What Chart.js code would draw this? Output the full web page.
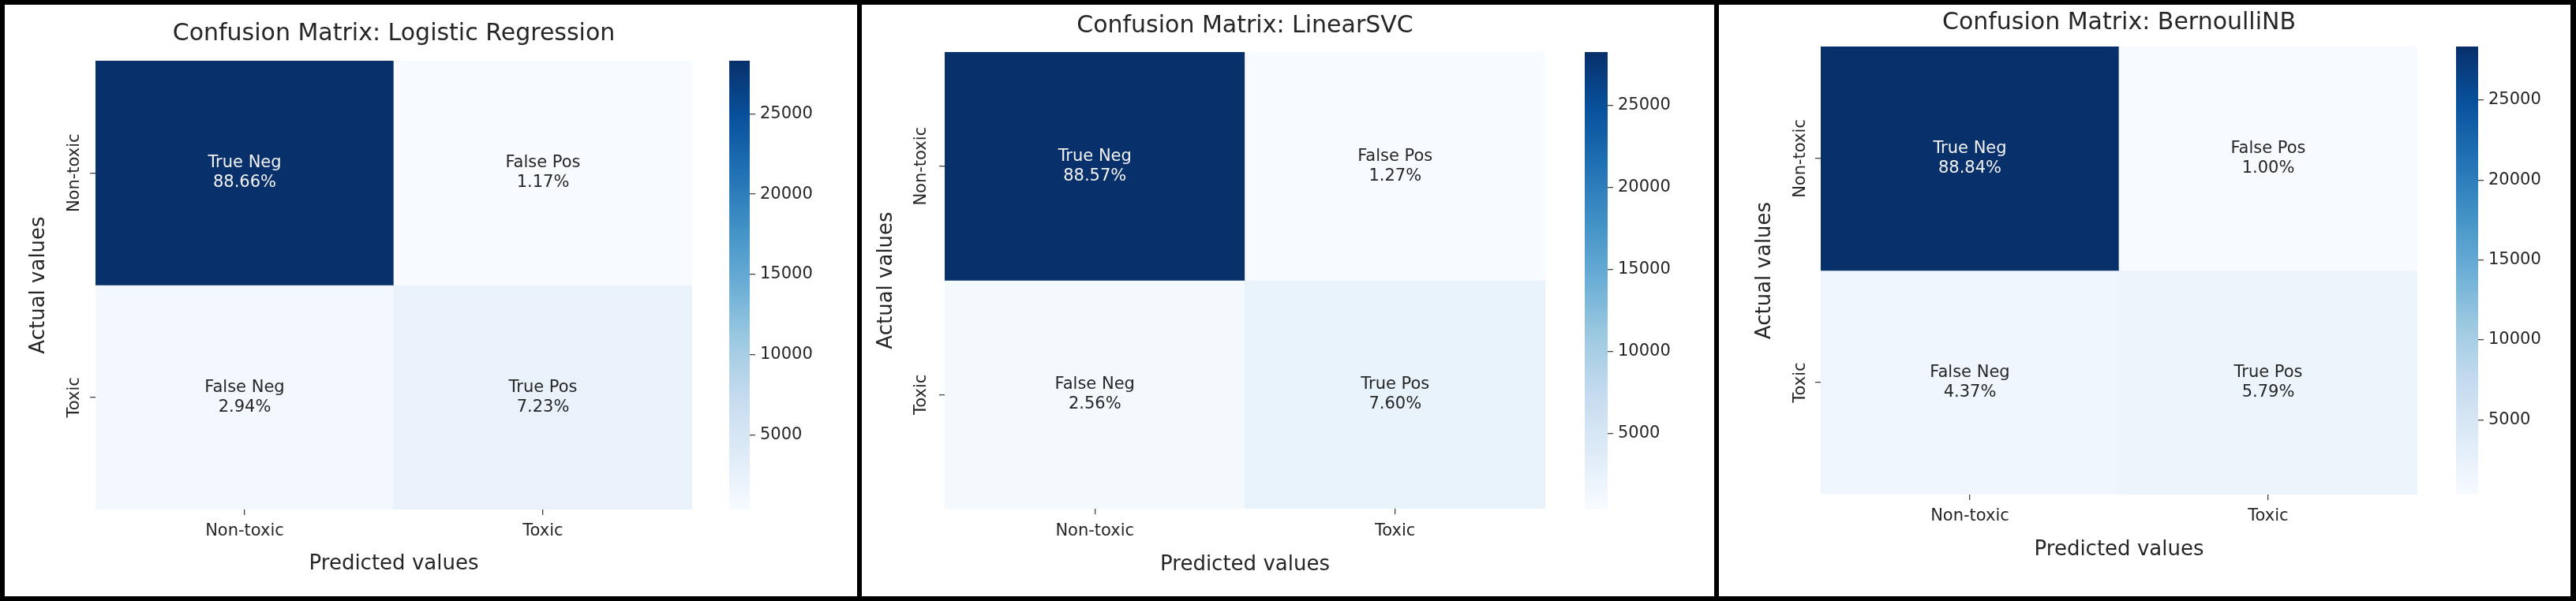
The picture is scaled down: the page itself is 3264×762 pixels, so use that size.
<!DOCTYPE html>
<html lang="en">
<head>
<meta charset="utf-8">
<title>Confusion matrices</title>
<script src="https://cdn.jsdelivr.net/npm/chart.js@4.4.0/dist/chart.umd.min.js"></script>
<style>
  html, body { margin: 0; padding: 0; background: #000; }
  body { width: 3264px; height: 762px; position: relative; overflow: hidden; }
  .panel { position: absolute; top: 6px; height: 750px; background: #fff; }
  .panel canvas { position: absolute; }
</style>
</head>
<body>
<div class="panel" id="p0" style="left:6px;width:1080px"></div>
<div class="panel" id="p1" style="left:1092px;width:1080px"></div>
<div class="panel" id="p2" style="left:2178px;width:1079px"></div>
<script>
// === DATA ===
const classes = ["Non-toxic", "Toxic"];
const cellNames = ["True Neg", "False Pos", "False Neg", "True Pos"];
const models = ["Logistic Regression", "LinearSVC", "BernoulliNB"];
// cell shares in %, order TN, FP, FN, TP
const pctLogReg = [88.66, 1.17, 2.94, 7.23];
const pctLinearSVC = [88.57, 1.27, 2.56, 7.60];
const pctBernoulli = [88.84, 1.00, 4.37, 5.79];
// test size (~28300 for 88.66 %)
const totalSamples = 31915;
const colorbarTicks = [5000, 10000, 15000, 20000, 25000];

// === LAYOUT (px inside each white panel) ===
const layouts = [
  { left: 115, right: 871, top: 71, bottom: 640, titleMid: 37, actualX: 43, tickX: 89, xTickMid: 668, predMid: 709, cbLeft: 918, cbRight: 944 },
  { left: 105, right: 866, top: 60, bottom: 639, titleMid: 27, actualX: 31, tickX: 76, xTickMid: 668, predMid: 710, cbLeft: 916, cbRight: 945 },
  { left: 129, right: 885, top: 53, bottom: 621, titleMid: 23, actualX: 58, tickX: 104, xTickMid: 649, predMid: 691, cbLeft: 934, cbRight: 962 }
];

const FONT = "'DejaVu Sans', sans-serif";
const TEXT = "#262626";
const TICK = "#444";
const TITLE_SIZE = 30, AXIS_TITLE_SIZE = 26, SMALL = 21;
Chart.defaults.font.family = FONT;
Chart.defaults.color = TEXT;

// === COLORMAP (matplotlib Blues) ===
const blues = ["#f7fbff", "#deebf7", "#c6dbef", "#9ecae1", "#6baed6", "#4292c6", "#2171b5", "#08519c", "#08306b"];
function hexRgb(h) {
  return [1, 3, 5].map(i => parseInt(h.slice(i, i + 2), 16));
}
function bluesAt(t) {
  t = Math.max(0, Math.min(1, t));
  const p = t * (blues.length - 1);
  const i = Math.min(Math.floor(p), blues.length - 2);
  const f = p - i;
  const a = hexRgb(blues[i]), b = hexRgb(blues[i + 1]);
  const c = a.map((v, k) => Math.round(v + (b[k] - v) * f));
  return `rgb(${c[0]},${c[1]},${c[2]})`;
}

// === ONE PANEL ===
function drawPanel(idx, pct) {
  const L = layouts[idx];
  const panel = document.getElementById("p" + idx);
  const W = panel.clientWidth, H = 750;
  const counts = pct.map(p => p / 100 * totalSamples);
  const vmin = Math.min(...counts), vmax = Math.max(...counts);
  const colorOf = v => bluesAt((v - vmin) / (vmax - vmin));

  const cv = document.createElement("canvas");
  cv.width = W; cv.height = H;
  cv.style.left = "0px"; cv.style.top = "0px";
  panel.appendChild(cv);

  const tickLen = 7;
  const lh = AXIS_TITLE_SIZE * 1.2;
  const xAxisH = L.predMid + lh / 2 - L.bottom;
  const tickFont = { size: SMALL };

  const annot = {
    id: "annot",
    afterDatasetsDraw(chart) {
      const { ctx, scales: { x, y } } = chart;
      ctx.save();
      ctx.font = `${SMALL}px ${FONT}`;
      ctx.textAlign = "center";
      ctx.textBaseline = "middle";
      classes.forEach((_, r) => classes.forEach((_, c) => {
        const k = r * 2 + c;
        const cx = x.getPixelForValue(c);
        const cy = y.getPixelForValue(r + 0.5);
        ctx.fillStyle = (counts[k] - vmin) / (vmax - vmin) > 0.6 ? "#f2f2f2" : TEXT;
        ctx.fillText(cellNames[k], cx, cy - 12.5);
        ctx.fillText(pct[k].toFixed(2) + "%", cx, cy + 12.5);
      }));
      ctx.restore();
    }
  };

  new Chart(cv, {
    type: "bar",
    data: {
      labels: classes,
      datasets: classes.map((row, r) => ({
        label: row,
        data: classes.map(() => [r, r + 1]),
        backgroundColor: classes.map((col, c) => colorOf(counts[r * 2 + c])),
        grouped: false,
        barPercentage: 1,
        categoryPercentage: 1,
        borderWidth: 0
      }))
    },
    options: {
      animation: false,
      responsive: false,
      layout: { padding: { left: 0, top: 0, right: W - L.right, bottom: H - L.bottom - xAxisH } },
      plugins: {
        legend: { display: false },
        tooltip: { enabled: false },
        title: {
          display: true,
          fullSize: false,
          text: "Confusion Matrix: " + models[idx],
          color: TEXT,
          font: { size: TITLE_SIZE, weight: "normal" },
          padding: { top: L.titleMid - TITLE_SIZE * 0.6, bottom: L.top - L.titleMid - TITLE_SIZE * 0.6 }
        }
      },
      scales: {
        x: {
          type: "category",
          offset: true,
          grid: { offset: false, drawOnChartArea: false, tickLength: tickLen, color: TICK, lineWidth: 1.3 },
          border: { display: false },
          ticks: { font: tickFont, color: TEXT, padding: L.xTickMid - SMALL * 0.6 - L.bottom - tickLen, maxRotation: 0 },
          title: { display: true, text: "Predicted values", color: TEXT, font: { size: AXIS_TITLE_SIZE }, padding: 0 },
          afterFit: s => { s.height = xAxisH; }
        },
        y: {
          type: "linear",
          min: 0,
          max: 2,
          reverse: true,
          afterBuildTicks: s => { s.ticks = classes.map((_, i) => ({ value: i + 0.5 })); },
          ticks: {
            font: tickFont,
            color: TEXT,
            minRotation: 90,
            maxRotation: 90,
            crossAlign: "center",
            padding: 0,
            callback: (v, i) => classes[i]
          },
          grid: { drawOnChartArea: false, tickLength: tickLen, color: TICK, lineWidth: 1.3 },
          border: { display: false },
          title: { display: true, text: "Actual values", color: TEXT, font: { size: AXIS_TITLE_SIZE }, padding: { top: L.actualX - lh / 2, bottom: 0 } },
          afterFit: s => { s.width = L.left; }
        }
      }
    },
    plugins: [annot, {
      // centre the rotated row labels where the picture has them
      id: "rowLabelPos",
      beforeDraw(chart) {
        const y = chart.scales.y;
        const half = y._getLabelSizes().widest.width / 2;
        y.options.ticks.padding = L.left - L.tickX - half - tickLen;
        y._labelItems = null;
      }
    }]
  });

  // === COLOUR BAR ===
  const padV = 20, axisW = 150;
  const cb = document.createElement("canvas");
  cb.width = (L.cbRight - L.cbLeft) + axisW;
  cb.height = (L.bottom - L.top) + 2 * padV;
  cb.style.left = L.cbLeft + "px";
  cb.style.top = (L.top - padV) + "px";
  panel.appendChild(cb);

  new Chart(cb, {
    type: "bar",
    data: {
      labels: [""],
      datasets: [{
        data: [[vmin, vmax]],
        barPercentage: 1,
        categoryPercentage: 1,
        borderWidth: 0,
        backgroundColor: ctx => {
          const chart = ctx.chart;
          if (!chart.chartArea) return blues[4];
          const ys = chart.scales.y;
          const g = chart.ctx.createLinearGradient(0, ys.getPixelForValue(vmin), 0, ys.getPixelForValue(vmax));
          blues.forEach((c, i) => g.addColorStop(i / (blues.length - 1), c));
          return g;
        }
      }]
    },
    options: {
      animation: false,
      responsive: false,
      layout: { padding: { top: padV, bottom: padV, left: 0, right: 0 } },
      plugins: { legend: { display: false }, tooltip: { enabled: false } },
      scales: {
        x: { display: false },
        y: {
          position: "right",
          min: vmin,
          max: vmax,
          afterBuildTicks: s => { s.ticks = colorbarTicks.map(v => ({ value: v })); },
          ticks: { font: tickFont, color: TEXT, padding: 6, callback: v => String(v) },
          grid: { drawOnChartArea: false, tickLength: 7, color: TICK, lineWidth: 1.3 },
          border: { display: false },
          afterFit: s => { s.width = axisW; }
        }
      }
    }
  });
}

drawPanel(0, pctLogReg);
drawPanel(1, pctLinearSVC);
drawPanel(2, pctBernoulli);
</script>
</body>
</html>
